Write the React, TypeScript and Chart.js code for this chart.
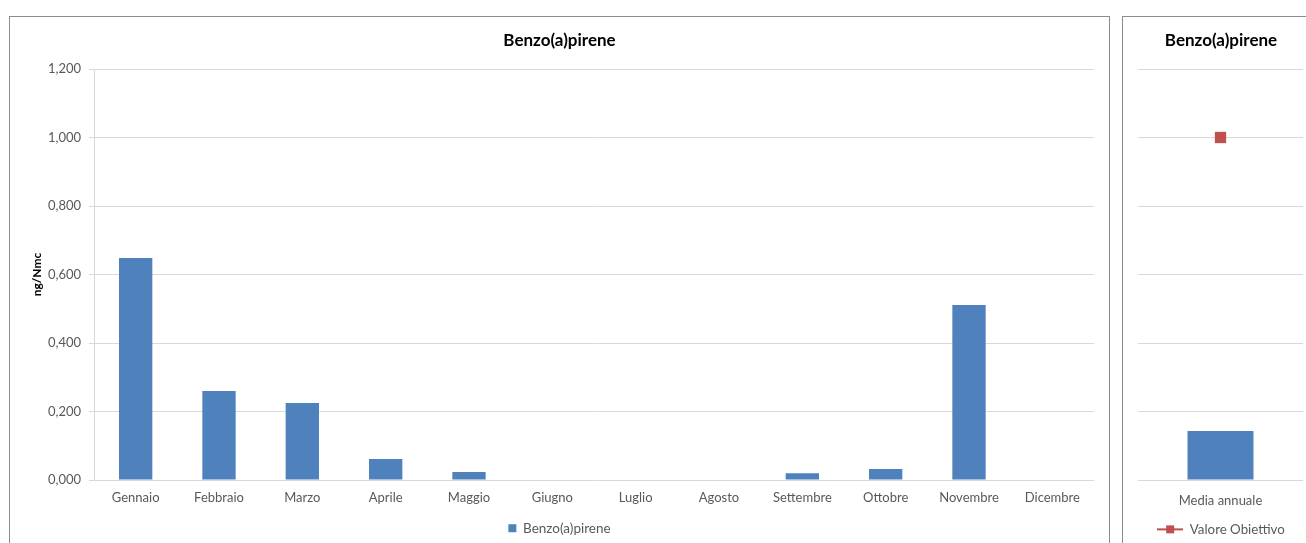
import React, { useEffect, useRef } from "react";
import { Chart, registerables } from "chart.js";

Chart.register(...registerables);

const months = [
  "Gennaio", "Febbraio", "Marzo", "Aprile", "Maggio", "Giugno",
  "Luglio", "Agosto", "Settembre", "Ottobre", "Novembre", "Dicembre",
];
const monthlyValues = [0.648, 0.26, 0.225, 0.061, 0.023, 0, 0, 0, 0.02, 0.032, 0.511, 0];
const annualCategories = ["Media annuale"];
const annualMean = [0.143];
const targetValue = [1.0];
const yMin = 0;
const yMax = 1.2;
const yStep = 0.2;
const chartTitle = "Benzo(a)pirene";
const yAxisTitle = "ng/Nmc";
const seriesName = "Benzo(a)pirene";
const targetName = "Valore Obiettivo";

const FONT = "Lato, 'Open Sans', sans-serif";
const BLUE = "#4f81bd";
const RED = "#c0504d";
const GRID = "#d9d9d9";
const TEXT = "#595959";

const fmt = (v: number) => v.toFixed(3).replace(".", ",");

function makeLegendLine(): HTMLCanvasElement {
  const c = document.createElement("canvas");
  c.width = 26;
  c.height = 10;
  const ctx = c.getContext("2d")!;
  ctx.strokeStyle = RED;
  ctx.lineWidth = 2;
  ctx.beginPath();
  ctx.moveTo(0, 5);
  ctx.lineTo(26, 5);
  ctx.stroke();
  ctx.fillStyle = RED;
  ctx.fillRect(9, 1, 8, 8);
  return c;
}

const titleOpts = {
  display: true,
  text: chartTitle,
  color: "#000",
  font: { family: FONT, size: 17, weight: "bold" },
  padding: { top: 13.8, bottom: 17.8 },
};

function MonthlyChart() {
  const ref = useRef<HTMLCanvasElement | null>(null);
  useEffect(() => {
    if (!ref.current) return;
    const chart = new Chart(ref.current, {
      type: "bar",
      data: {
        labels: months,
        datasets: [
          {
            label: seriesName,
            data: monthlyValues,
            backgroundColor: BLUE,
            borderWidth: 0,
            barPercentage: 0.4,
            categoryPercentage: 1,
          },
        ],
      },
      options: {
        animation: false,
        responsive: false,
        maintainAspectRatio: false,
        layout: { padding: 0 },
        plugins: {
          tooltip: { enabled: false },
          title: titleOpts,
          legend: {
            display: true,
            position: "bottom",
            labels: {
              color: TEXT,
              font: { family: FONT, size: 13.5 },
              boxWidth: 8,
              boxHeight: 8,
              padding: 10,
            },
          },
        },
        scales: {
          x: {
            grid: { display: false },
            border: { display: false },
            ticks: { color: TEXT, font: { family: FONT, size: 13 }, padding: 2.5, maxRotation: 0, autoSkip: false },
            afterFit: (s: any) => { s.height = 31.5; },
          },
          y: {
            min: yMin,
            max: yMax,
            grid: { color: GRID, tickLength: 5, drawTicks: true },
            border: { display: true, color: GRID },
            ticks: {
              stepSize: yStep,
              color: TEXT,
              font: { family: FONT, size: 13 },
              padding: 8,
              callback: (v: any) => fmt(Number(v)),
            },
            title: {
              display: true,
              text: yAxisTitle,
              color: "#000",
              font: { family: FONT, size: 12, weight: "bold" },
              padding: { top: 20, bottom: 0 },
            },
            afterFit: (s: any) => { s.width = 84; },
          },
          pad: {
            position: "right",
            display: true,
            grid: { display: false },
            border: { display: false },
            ticks: { display: false },
            afterFit: (s: any) => { s.width = 15; },
          },
        },
      } as any,
    });
    return () => chart.destroy();
  }, []);
  return <canvas ref={ref} width={1099} height={528} style={{ display: "block" }} />;
}

function AnnualChart() {
  const ref = useRef<HTMLCanvasElement | null>(null);
  useEffect(() => {
    if (!ref.current) return;
    const legendImg = makeLegendLine();
    const chart = new Chart(ref.current, {
      type: "bar",
      data: {
        labels: annualCategories,
        datasets: [
          {
            type: "line",
            label: targetName,
            data: targetValue,
            borderColor: RED,
            backgroundColor: RED,
            pointStyle: "rect",
            pointRadius: 8,
            pointBorderWidth: 0,
            showLine: false,
            order: 0,
          },
          {
            type: "bar",
            label: seriesName,
            data: annualMean,
            backgroundColor: BLUE,
            borderWidth: 0,
            barPercentage: 0.4,
            categoryPercentage: 1,
            order: 1,
          },
        ],
      },
      options: {
        animation: false,
        responsive: false,
        maintainAspectRatio: false,
        layout: { padding: 0 },
        plugins: {
          tooltip: { enabled: false },
          title: titleOpts,
          legend: {
            display: true,
            position: "bottom",
            labels: {
              color: TEXT,
              font: { family: FONT, size: 13.3 },
              usePointStyle: true,
              pointStyleWidth: 26,
              padding: 10,
              generateLabels: () => [
                {
                  text: targetName,
                  pointStyle: legendImg,
                  fillStyle: RED,
                  strokeStyle: RED,
                  lineWidth: 0,
                  hidden: false,
                  datasetIndex: 0,
                  fontColor: TEXT,
                },
              ],
            },
          },
        },
        scales: {
          x: {
            grid: { display: false },
            border: { display: false },
            ticks: { color: TEXT, font: { family: FONT, size: 13 }, padding: 5.5, maxRotation: 0 },
            afterFit: (s: any) => { s.height = 32.7; },
          },
          y: {
            min: yMin,
            max: yMax,
            grid: { color: GRID, drawTicks: false },
            border: { display: false },
            ticks: { stepSize: yStep, display: false },
            afterFit: (s: any) => { s.width = 15; },
          },
          pad: {
            position: "right",
            display: true,
            grid: { display: false },
            border: { display: false },
            ticks: { display: false },
            afterFit: (s: any) => { s.width = 16; },
          },
        },
      } as any,
    });
    return () => chart.destroy();
  }, []);
  return <canvas ref={ref} width={196} height={529} style={{ display: "block" }} />;
}

export default function App() {
  return (
    <div
      style={{
        position: "fixed",
        left: 0,
        top: 0,
        width: 1306,
        height: 543,
        overflow: "hidden",
        background: "#fff",
        fontFamily: FONT,
      }}
    >
      <div
        style={{
          position: "absolute",
          left: 9,
          top: 16,
          width: 1099,
          height: 600,
          border: "1px solid #8c8c8c",
          background: "#fff",
        }}
      >
        <MonthlyChart />
      </div>
      <div
        style={{
          position: "absolute",
          left: 1122,
          top: 16,
          width: 196,
          height: 600,
          border: "1px solid #8c8c8c",
          background: "#fff",
        }}
      >
        <AnnualChart />
      </div>
    </div>
  );
}
